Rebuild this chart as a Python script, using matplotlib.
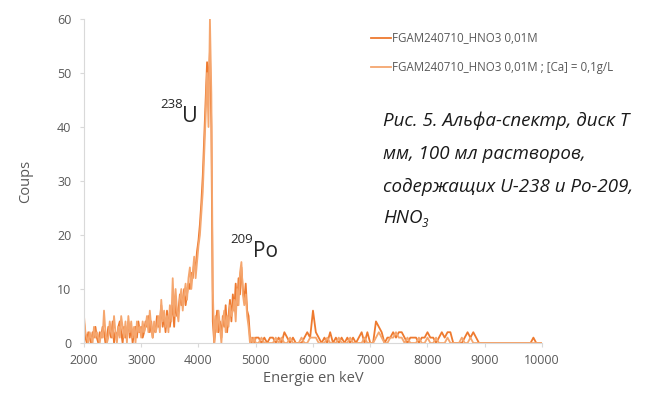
import numpy as np
import matplotlib
matplotlib.use("Agg")
import matplotlib.pyplot as plt

plt.rcParams['font.family'] = ['Open Sans', 'DejaVu Sans']

# counts per channel, 2000-5000 keV every 25 keV
low_hno3 = [
    4, 1, 0, 2, 1, 0, 2, 1, 3, 1,
    0, 2, 1, 3, 2, 0, 1, 3, 2, 1,
    4, 0, 2, 1, 3, 4, 2, 0, 3, 1,
    2, 4, 1, 3, 0, 2, 3, 1, 4, 2,
    3, 1, 2, 4, 3, 5, 2, 4, 1, 3,
    2, 5, 3, 4, 7, 3, 5, 2, 6, 4,
    3, 5, 7, 3, 8, 5, 6, 9, 7, 8,
    10, 7, 9, 11, 10, 13, 12, 15, 14, 17,
    19, 22, 26, 31, 38, 45, 52, 48, 54, 40,
    4, 0, 3, 6, 2, 4, 1, 5, 3, 7,
    2, 5, 8, 4, 9, 6, 11, 7, 12, 9,
    14, 10, 8, 11, 6, 5, 1, 0, 1, 0,
    1,
]
low_ca = [
    5, 2, 1, 0, 2, 1, 0, 3, 1, 2,
    1, 0, 2, 1, 6, 2, 0, 1, 4, 2,
    1, 5, 2, 0, 3, 1, 5, 3, 1, 4,
    0, 5, 2, 4, 1, 3, 0, 4, 2, 3,
    1, 4, 2, 3, 5, 2, 6, 3, 1, 4,
    2, 3, 5, 2, 8, 4, 6, 3, 5, 2,
    7, 4, 12, 5, 10, 6, 4, 8, 10, 6,
    9, 11, 8, 12, 14, 10, 13, 16, 12, 15,
    18, 20, 24, 28, 35, 42, 50, 40, 60, 46,
    10, 0, 5, 2, 6, 3, 0, 4, 6, 2,
    5, 3, 7, 5, 6, 8, 4, 10, 7, 13,
    15, 9, 7, 9, 5, 3, 0, 1, 0, 1,
    0,
]

# counts per channel, 5050-10000 keV every 50 keV
high_hno3 = [
    1, 0, 1, 0, 1, 1, 0, 1, 0, 2,
    1, 0, 1, 0, 0, 0, 1, 2, 1, 6,
    2, 1, 0, 1, 0, 2, 0, 1, 0, 1,
    0, 1, 0, 1, 0, 1, 2, 0, 2, 0,
    0, 4, 3, 2, 0, 1, 1, 2, 1, 2,
    2, 1, 0, 1, 1, 1, 0, 1, 1, 2,
    1, 1, 0, 1, 2, 1, 2, 2, 0, 0,
    0, 0, 1, 2, 1, 2, 1, 0, 0, 0,
    0, 0, 0, 0, 0, 0, 0, 0, 0, 0,
    0, 0, 0, 0, 0, 0, 1, 0, 0, 0,
]
high_ca = [
    0, 1, 0, 0, 0, 0, 1, 0, 1, 0,
    0, 1, 0, 0, 0, 1, 0, 0, 1, 1,
    1, 0, 0, 0, 1, 0, 0, 0, 1, 0,
    0, 0, 1, 0, 0, 0, 0, 1, 0, 0,
    0, 1, 2, 1, 0, 0, 1, 1, 2, 1,
    1, 0, 1, 0, 0, 0, 1, 0, 0, 1,
    0, 0, 1, 0, 0, 0, 1, 0, 0, 0,
    0, 1, 0, 0, 1, 0, 0, 0, 0, 0,
    0, 0, 0, 0, 0, 0, 0, 0, 0, 0,
    0, 0, 0, 0, 0, 0, 0, 0, 0, 0,
]

labels = ['FGAM240710_HNO3 0,01M', 'FGAM240710_HNO3 0,01M ; [Ca] = 0,1g/L']
caption = ['Рис. 5. Альфа-спектр, диск Т',
           'мм, 100 мл растворов,',
           'содержащих U-238 и Po-209,']

energy = np.concatenate([np.arange(2000, 5001, 25), np.arange(5050, 10001, 50)])
hno3 = np.array(low_hno3 + high_hno3)
ca = np.array(low_ca + high_ca)

dark = '#EE7A2F'
light = '#F5A66E'
grey = '#595959'
ink = '#1a1a1a'

fig = plt.figure(figsize=(6.53, 3.94), dpi=100)
ax = fig.add_axes([0.1286, 0.1294, 0.7014, 0.8224])

ax.plot(energy, hno3, color=dark, lw=1.3, label=labels[0])
ax.plot(energy, ca, color=light, lw=1.3, label=labels[1])

ax.set_xlim(2000, 10000)
ax.set_ylim(0, 60)
ax.set_xticks(range(2000, 10001, 1000))
ax.set_yticks(range(0, 61, 10))
ax.tick_params(colors='#D9D9D9', labelcolor=grey, labelsize=9, length=3)
ax.tick_params(axis='y', pad=6)
ax.tick_params(axis='x', pad=5)
for side in ['top', 'right']:
    ax.spines[side].set_visible(False)
for side in ['left', 'bottom']:
    ax.spines[side].set_color('#D9D9D9')

ax.set_xlabel('Energie en keV', color=grey, fontsize=10.5, labelpad=3)
ax.set_ylabel('Coups', color=grey, fontsize=10.5, labelpad=17)

# isotope labels
u = ax.text(3720, 42, 'U', fontsize=15.5, color='#262626', va='center', ha='left')
ax.annotate('238', xy=(0.02, 0.74), xycoords=u, fontsize=9.5, color='#262626',
            ha='right', va='bottom')
po = ax.text(4950, 17, 'Po', fontsize=15, color='#262626', va='center', ha='left')
ax.annotate('209', xy=(0.02, 0.74), xycoords=po, fontsize=9.5, color='#262626',
            ha='right', va='bottom')

fig.legend(loc='upper left', bbox_to_anchor=(0.561, 0.93), frameon=False,
           fontsize=8.3, labelcolor=grey, handlelength=1.75, handletextpad=0.1,
           labelspacing=1.35, borderaxespad=0)

for i, line in enumerate(caption):
    fig.text(383 / 653, 1 - (121 + 33 * i) / 394, line, fontsize=13.5,
             style='italic', color=ink, va='center', ha='left')
hno = fig.text(383 / 653, 1 - 218 / 394, 'HNO', fontsize=13.5,
               style='italic', color=ink, va='center', ha='left')
ax.annotate('3', xy=(0.98, 0.2), xycoords=hno, fontsize=8.5, style='italic',
            color=ink, ha='left', va='center')

fig.savefig('out.png', dpi=100)
